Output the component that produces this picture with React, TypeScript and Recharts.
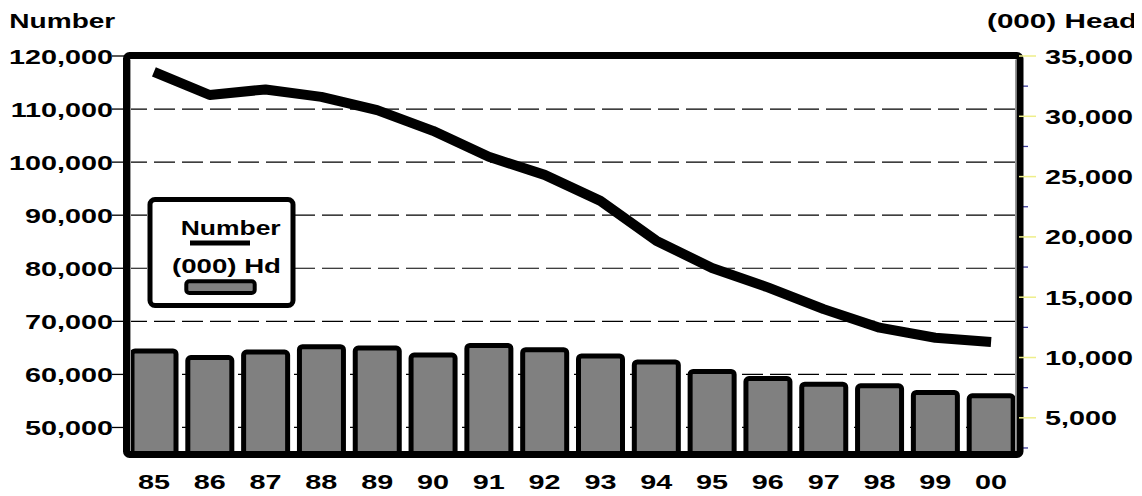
import React from 'react';
import { ComposedChart, Bar, Line, XAxis, YAxis, CartesianGrid, Legend } from 'recharts';

const years = ['85', '86', '87', '88', '89', '90', '91', '92', '93', '94', '95', '96', '97', '98', '99', '00'];
const numberValues = [117000, 112650, 113700, 112300, 109800, 105900, 101000, 97600, 92700, 85200, 80050, 76400, 72300, 68800, 66900, 66100];
const headValues = [10550, 10000, 10450, 10900, 10780, 10200, 11000, 10650, 10130, 9630, 8850, 8250, 7790, 7650, 7100, 6820];
const leftTicks = [50000, 60000, 70000, 80000, 90000, 100000, 110000, 120000];
const rightTicks = [2500, 5000, 7500, 10000, 12500, 15000, 17500, 20000, 22500, 25000, 27500, 30000, 32500, 35000];
const leftDomain = [45000, 120000];
const rightDomain = [2000, 35000];

const data = years.map((y, i) => ({ year: y, number: numberValues[i], head: headValues[i] }));

const FONT = '"Liberation Sans", Arial, Helvetica, sans-serif';
const SX = 1.37;

// layout
const W = 1134;
const H = 488;
const M = { top: 48, right: 0, bottom: 2, left: 0 };
const LEFT_W = 118;
const RIGHT_W = 123;
const XAXIS_H = 40;
const PLOT = {
  x: M.left + LEFT_W,
  y: M.top,
  w: W - M.left - M.right - LEFT_W - RIGHT_W,
  h: H - M.top - M.bottom - XAXIS_H,
};

const fmt = (v: number) => v.toLocaleString('en-US');

const StretchText = ({ x, y, anchor, children, size = 21, sx = SX }: any) => (
  <g transform={`translate(${x},${y})`}>
    <text
      transform={`scale(${sx},1)`}
      x={0}
      y={0}
      textAnchor={anchor}
      fontFamily={FONT}
      fontWeight="bold"
      fontSize={size}
      fill="#000"
    >
      {children}
    </text>
  </g>
);

const LeftTick = (props: any) => {
  const { x, y, payload } = props;
  return (
    <g>
      <line x1={x - 14} y1={y} x2={x} y2={y} stroke="#000" strokeWidth={1.3} />
      <StretchText x={x - 13} y={y + 7.5} anchor="end">
        {fmt(payload.value)}
      </StretchText>
    </g>
  );
};

const RightTick = (props: any) => {
  const { x, y, payload } = props;
  const major = payload.value % 5000 === 0;
  if (!major) {
    return <line x1={x} y1={y} x2={x + 9} y2={y} stroke="#3a3a9a" strokeWidth={1.3} />;
  }
  return (
    <g>
      <StretchText x={x + 26} y={y + 7.5} anchor="start">
        {fmt(payload.value)}
      </StretchText>
    </g>
  );
};

const BottomTick = (props: any) => {
  const { x, y, payload } = props;
  return (
    <StretchText x={x} y={y + 35} anchor="middle">
      {payload.value}
    </StretchText>
  );
};

const LegendBox = () => (
  <svg width={160} height={125} style={{ display: 'block' }}>
    <rect x={5} y={5.5} width={143} height={106} rx={5} ry={5} fill="#fff" stroke="#000" strokeWidth={5} />
    <text x={35.7} y={41} textLength={100} lengthAdjust="spacingAndGlyphs" fontFamily={FONT} fontWeight="bold" fontSize={20} fill="#000">
      Number
    </text>
    <line x1={45} y1={49} x2={105} y2={49} stroke="#000" strokeWidth={5} />
    <text x={27} y={78.5} textLength={109} lengthAdjust="spacingAndGlyphs" fontFamily={FONT} fontWeight="bold" fontSize={20} fill="#000">
      (000) Hd
    </text>
    <rect x={41.3} y={87.3} width={68.4} height={11.7} rx={3} ry={3} fill="#808080" stroke="#000" strokeWidth={4} />
  </svg>
);

// yellow major ticks of the right axis, drawn over the frame
const rightMajor = rightTicks.filter((t) => t % 5000 === 0);
const yRight = (v: number) => PLOT.y + PLOT.h - ((v - rightDomain[0]) / (rightDomain[1] - rightDomain[0])) * PLOT.h;

export default function App() {
  return (
    <div style={{ position: 'relative', width: W, height: H }}>
      <ComposedChart width={W} height={H} data={data} margin={M} style={{ background: '#fff' }}>
        <CartesianGrid yAxisId="left" vertical={false} stroke="#000" strokeWidth={1.2} strokeDasharray="21 7" />
        <Bar
          yAxisId="right"
          dataKey="head"
          fill="#808080"
          stroke="#000"
          strokeWidth={5}
          barSize={44}
          radius={3}
          isAnimationActive={false}
        />
        <XAxis
          dataKey="year"
          height={XAXIS_H}
          interval={0}
          tickSize={0}
          tickMargin={0}
          tickLine={false}
          axisLine={false}
          tick={<BottomTick />}
        />
        <YAxis
          yAxisId="left"
          width={LEFT_W}
          domain={leftDomain}
          ticks={leftTicks}
          interval={0}
          tickSize={0}
          tickMargin={0}
          tickLine={false}
          axisLine={false}
          tick={<LeftTick />}
        />
        <YAxis
          yAxisId="right"
          orientation="right"
          width={RIGHT_W}
          domain={rightDomain}
          ticks={rightTicks}
          interval={0}
          tickSize={0}
          tickMargin={0}
          tickLine={false}
          axisLine={false}
          tick={<RightTick />}
        />
        <Line
          yAxisId="left"
          dataKey="number"
          stroke="#000"
          strokeWidth={10}
          strokeLinejoin="round"
          dot={false}
          activeDot={false}
          isAnimationActive={false}
        />
        <Legend
          layout="vertical"
          align="center"
          verticalAlign="middle"
          content={() => <LegendBox />}
          wrapperStyle={{ position: 'absolute', left: 137, top: 186, width: 160, height: 125 }}
        />
      </ComposedChart>
      <svg width={W} height={H} style={{ position: 'absolute', left: 0, top: 0, pointerEvents: 'none' }}>
        <rect
          x={PLOT.x + 0.5}
          y={PLOT.y - 0.5}
          width={PLOT.w + 0.5}
          height={PLOT.h + 1}
          rx={3}
          ry={3}
          fill="none"
          stroke="#000"
          strokeWidth={7}
        />
        <line x1={PLOT.x + 4.5} y1={PLOT.y + 3.5} x2={PLOT.x + 4.5} y2={PLOT.y + PLOT.h - 3} stroke="#9a9a9a" strokeWidth={1} />
        <line x1={PLOT.x + PLOT.w - 3.5} y1={PLOT.y + 3.5} x2={PLOT.x + PLOT.w - 3.5} y2={PLOT.y + PLOT.h - 3} stroke="#9a9a9a" strokeWidth={1} />
        {rightMajor.map((t) => (
          <line key={t} x1={PLOT.x + PLOT.w} y1={yRight(t)} x2={PLOT.x + PLOT.w + 17} y2={yRight(t)} stroke="#eeee8a" strokeWidth={1.5} />
        ))}
        <text x={1.3} y={20.3} textLength={106} lengthAdjust="spacingAndGlyphs" fontFamily={FONT} fontWeight="bold" fontSize={20} fill="#000">
          Number
        </text>
        <text x={979} y={20.3} textLength={150} lengthAdjust="spacingAndGlyphs" fontFamily={FONT} fontWeight="bold" fontSize={20} fill="#000">
          (000) Head
        </text>
      </svg>
    </div>
  );
}
